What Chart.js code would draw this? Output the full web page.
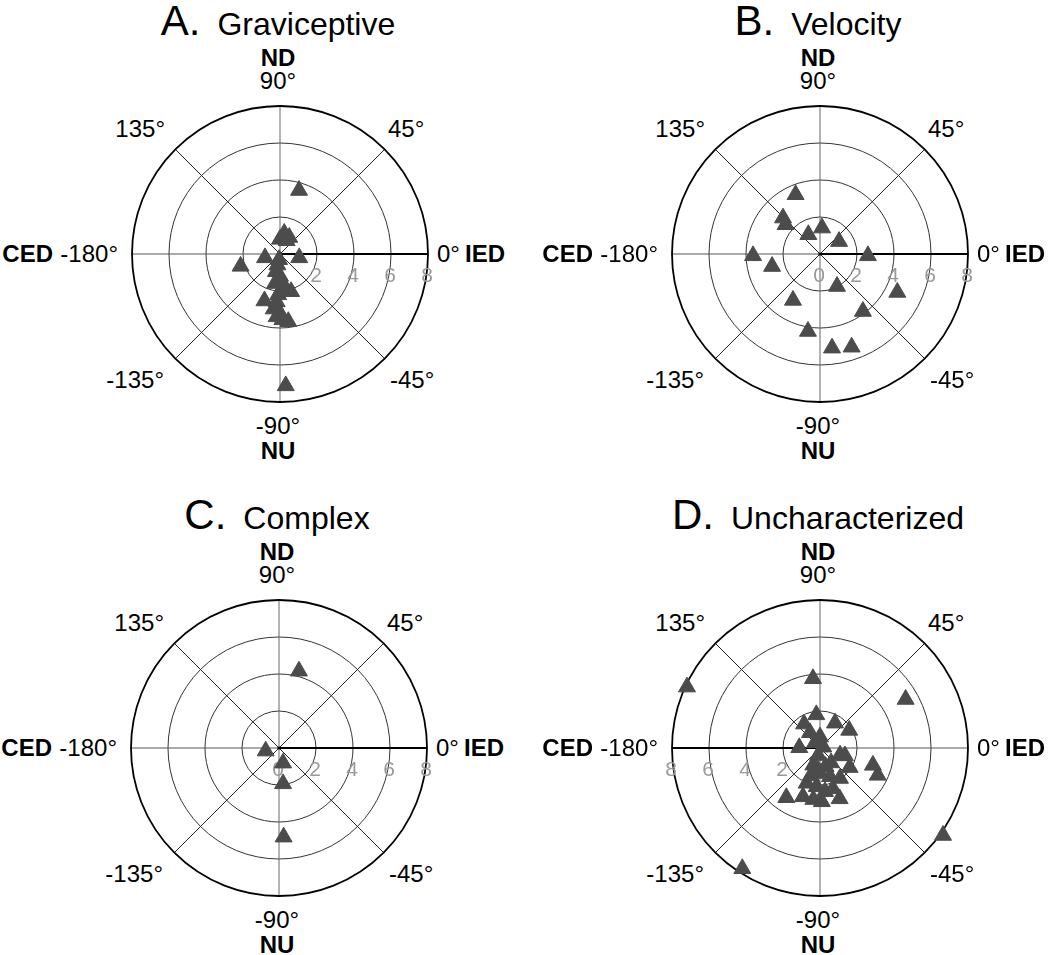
<!DOCTYPE html>
<html>
<head>
<meta charset="utf-8">
<script src="https://cdn.jsdelivr.net/npm/chart.js@4.4.0/dist/chart.umd.min.js"></script>
<style>
  body { margin: 0; background: #fff; }
  #fig { position: relative; width: 1050px; height: 955px; background: #fff; overflow: hidden;
         font-family: "Liberation Sans", Arial, Helvetica, sans-serif; color: #000; }
  #fig canvas { position: absolute; }
  .lbl { position: absolute; font-size: 24px; line-height: 24px; white-space: nowrap; }
  .lbl.b { font-weight: bold; }
  .ttl { position: absolute; width: 600px; text-align: center; font-size: 42px; line-height: 42px; white-space: nowrap; }
  .ttl .nm { font-size: 32px; margin-left: 17px; }
</style>
</head>
<body>
<div id="fig"></div>
<script>
// ring values (magnitude) and spoke directions (deg)
const ringTicks = [2, 4, 6, 8];
const spokeAngles = [0, 45, 90, 135, 180, 225, 270, 315];

// panel titles
const panelLetters = ["A.", "B.", "C.", "D."];
const panelNames = ["Graviceptive", "Velocity", "Complex", "Uncharacterized"];

// direction labels
const dirTop = ["ND", "90°"];
const dirBottom = ["-90°", "NU"];
const dirLeft = ["CED", "-180°"];
const dirRight = ["0°", "IED"];
const diagLabels = ["135°", "45°", "-135°", "-45°"];

// A. Graviceptive (IED component, ND component)
const gravX = [1.03, 0.31, -2.13, -0.81, 1.04, 0.23, 0.50, 0.00, 0.36, -0.14, -0.22, 0.00, -0.27,
               0.18, 0.60, -0.84, -0.18, -0.34, 0.00, -0.18, 0.13, 0.45, -0.10, 0.10, -0.05];
const gravY = [3.44, -7.12, -0.66, -0.20, -0.20, 1.12, 0.90, 0.80, 0.72, -0.59, -0.95, -1.20, -1.59,
               -1.86, -2.03, -2.53, -2.58, -2.97, -3.20, -3.39, -3.55, -3.65, -2.20, -1.50, -0.30];

// B. Velocity
const velX = [-1.32, -2.00, -1.86, -0.63, 0.11, 1.03, 2.59, -3.62, -2.59, 0.92, -1.46, 4.18, 2.32, -0.65, 0.65, 1.71];
const velY = [3.21, 1.95, 1.59, 1.05, 1.41, 0.68, -0.09, -0.09, -0.67, -1.75, -2.50, -2.07, -3.10, -4.18, -5.08, -5.03];

// C. Complex
const cplxX = [1.08, -0.72, 0.22, 0.22, 0.25];
const cplxY = [4.16, -0.16, -0.81, -1.93, -4.81];

// D. Uncharacterized
const uncX = [-7.19, 4.63, 6.65, -4.20, -0.38, -0.20, -0.86, 0.81, 1.58, -0.54, 0.00, -1.12, -0.27, 0.18,
              1.08, 1.35, 1.60, 2.86, 3.12, -0.36, 0.00, 0.54, 1.08, -0.72, -1.82, -0.92, -0.36, 1.06,
              0.27, -0.18, 0.30, -0.10, 0.60, -0.50, 0.10, 0.70, -0.10];
const uncY = [3.30, 2.63, -4.72, -6.52, 3.75, 1.80, 1.30, 1.35, 0.96, 0.83, 0.60, 0.02, 0.29, 0.05,
              -0.38, -0.42, -1.05, -0.93, -1.47, -0.92, -1.37, -1.55, -1.64, -1.90, -2.68, -2.63, -2.78, -2.74,
              -2.36, -2.09, -1.00, -0.40, -0.80, -1.50, -2.90, -2.20, -1.20];

const FONT = '"Liberation Sans", Arial, Helvetica, sans-serif';
const fig = document.getElementById("fig");

const polarGrid = {
  id: "polarGrid",
  beforeDatasetsDraw(chart, args, opts) {
    const ctx = chart.ctx;
    const xs = chart.scales.x, ys = chart.scales.y;
    const x0 = xs.getPixelForValue(0), y0 = ys.getPixelForValue(0);
    const rad = v => xs.getPixelForValue(v) - x0;
    const rMax = rad(ringTicks[ringTicks.length - 1]);
    ctx.save();

    // inner rings
    ctx.strokeStyle = "#333";
    ctx.lineWidth = 1;
    ringTicks.slice(0, -1).forEach(v => {
      ctx.beginPath();
      ctx.arc(x0, y0, rad(v), 0, Math.PI * 2);
      ctx.stroke();
    });

    // spokes
    spokeAngles.forEach(a => {
      const axisDir = opts.side > 0 ? 0 : 180;
      const t = a * Math.PI / 180;
      ctx.beginPath();
      if (a === axisDir) {
        ctx.strokeStyle = "#000";
        ctx.lineWidth = 2;
      } else if (a === 90 || a === 270) {
        ctx.strokeStyle = "#666";
        ctx.lineWidth = 1;
      } else if (a === 0 || a === 180) {
        ctx.strokeStyle = "#555";
        ctx.lineWidth = 1;
      } else {
        ctx.strokeStyle = "#222";
        ctx.lineWidth = 1;
      }
      ctx.moveTo(x0, y0);
      ctx.lineTo(x0 + Math.cos(t) * rMax, y0 - Math.sin(t) * rMax);
      ctx.stroke();
    });

    // outer ring
    ctx.strokeStyle = "#000";
    ctx.lineWidth = 1.8;
    ctx.beginPath();
    ctx.arc(x0, y0, rMax, 0, Math.PI * 2);
    ctx.stroke();

    // centre dot
    ctx.fillStyle = "#000";
    ctx.beginPath();
    ctx.arc(x0, y0, 1.6, 0, Math.PI * 2);
    ctx.fill();

    // magnitude labels
    ctx.fillStyle = "#9a9a9a";
    ctx.font = "21px " + FONT;
    ctx.textAlign = "center";
    ctx.textBaseline = "middle";
    const labs = opts.zero ? [0].concat(ringTicks) : ringTicks;
    labs.forEach(v => {
      ctx.fillText(String(v), xs.getPixelForValue(opts.side * v) - 1, y0 + 22);
    });
    ctx.restore();
  }
};

function addLabel(text, x, y, bold, align) {
  const d = document.createElement("div");
  d.className = "lbl" + (bold ? " b" : "");
  d.textContent = text;
  d.style.top = (y - 12) + "px";
  if (align === "center") {
    d.style.left = (x - 100) + "px"; d.style.width = "200px"; d.style.textAlign = "center";
  } else if (align === "right") {
    d.style.left = (x - 200) + "px"; d.style.width = "200px"; d.style.textAlign = "right";
  } else {
    d.style.left = x + "px";
  }
  fig.appendChild(d);
}

function makePanel(i, cx, cy, xsData, ysData, side, zero) {
  // title
  const t = document.createElement("div");
  t.className = "ttl";
  t.style.left = (cx - 302) + "px";
  t.style.top = (cy - 254) + "px";
  t.innerHTML = panelLetters[i] + '<span class="nm">' + panelNames[i] + "</span>";
  fig.appendChild(t);

  // direction labels
  addLabel(dirTop[0], cx - 2, cy - 196, true, "center");
  addLabel(dirTop[1], cx - 2, cy - 173, false, "center");
  addLabel(dirBottom[0], cx - 2, cy + 172, false, "center");
  addLabel(dirBottom[1], cx - 2, cy + 197, true, "center");
  addLabel(dirLeft[0], cx - 227, cy, true, "right");
  addLabel(dirLeft[1], cx - 162, cy, false, "right");
  addLabel(dirRight[0], cx + 157, cy, false, "left");
  addLabel(dirRight[1], cx + 185, cy, true, "left");
  addLabel(diagLabels[0], cx - 115, cy - 125, false, "right");
  addLabel(diagLabels[1], cx + 108, cy - 125, false, "left");
  addLabel(diagLabels[2], cx - 116, cy + 126, false, "right");
  addLabel(diagLabels[3], cx + 110, cy + 126, false, "left");

  const cv = document.createElement("canvas");
  cv.width = 360; cv.height = 360;
  cv.style.left = (cx - 180) + "px";
  cv.style.top = (cy - 180) + "px";
  fig.appendChild(cv);

  new Chart(cv.getContext("2d"), {
    type: "scatter",
    data: {
      datasets: [{
        data: xsData.map((x, k) => ({ x: x, y: ysData[k] })),
        pointStyle: "triangle",
        pointRadius: 9.8,
        pointHoverRadius: 9.8,
        backgroundColor: "#4c4c4c",
        borderColor: "#4c4c4c",
        borderWidth: 1,
        clip: false
      }]
    },
    options: {
      responsive: false,
      animation: false,
      events: [],
      layout: { padding: 32 },
      scales: {
        x: { type: "linear", min: -8, max: 8, display: false },
        y: { type: "linear", min: -8, max: 8, display: false }
      },
      plugins: {
        legend: { display: false },
        tooltip: { enabled: false },
        polarGrid: { side: side, zero: zero }
      }
    },
    plugins: [polarGrid]
  });
}

makePanel(0, 280, 254, gravX, gravY, 1, false);
makePanel(1, 820, 254, velX, velY, 1, true);
makePanel(2, 279, 748, cplxX, cplxY, 1, true);
makePanel(3, 820, 748, uncX, uncY, -1, false);
</script>
</body>
</html>
